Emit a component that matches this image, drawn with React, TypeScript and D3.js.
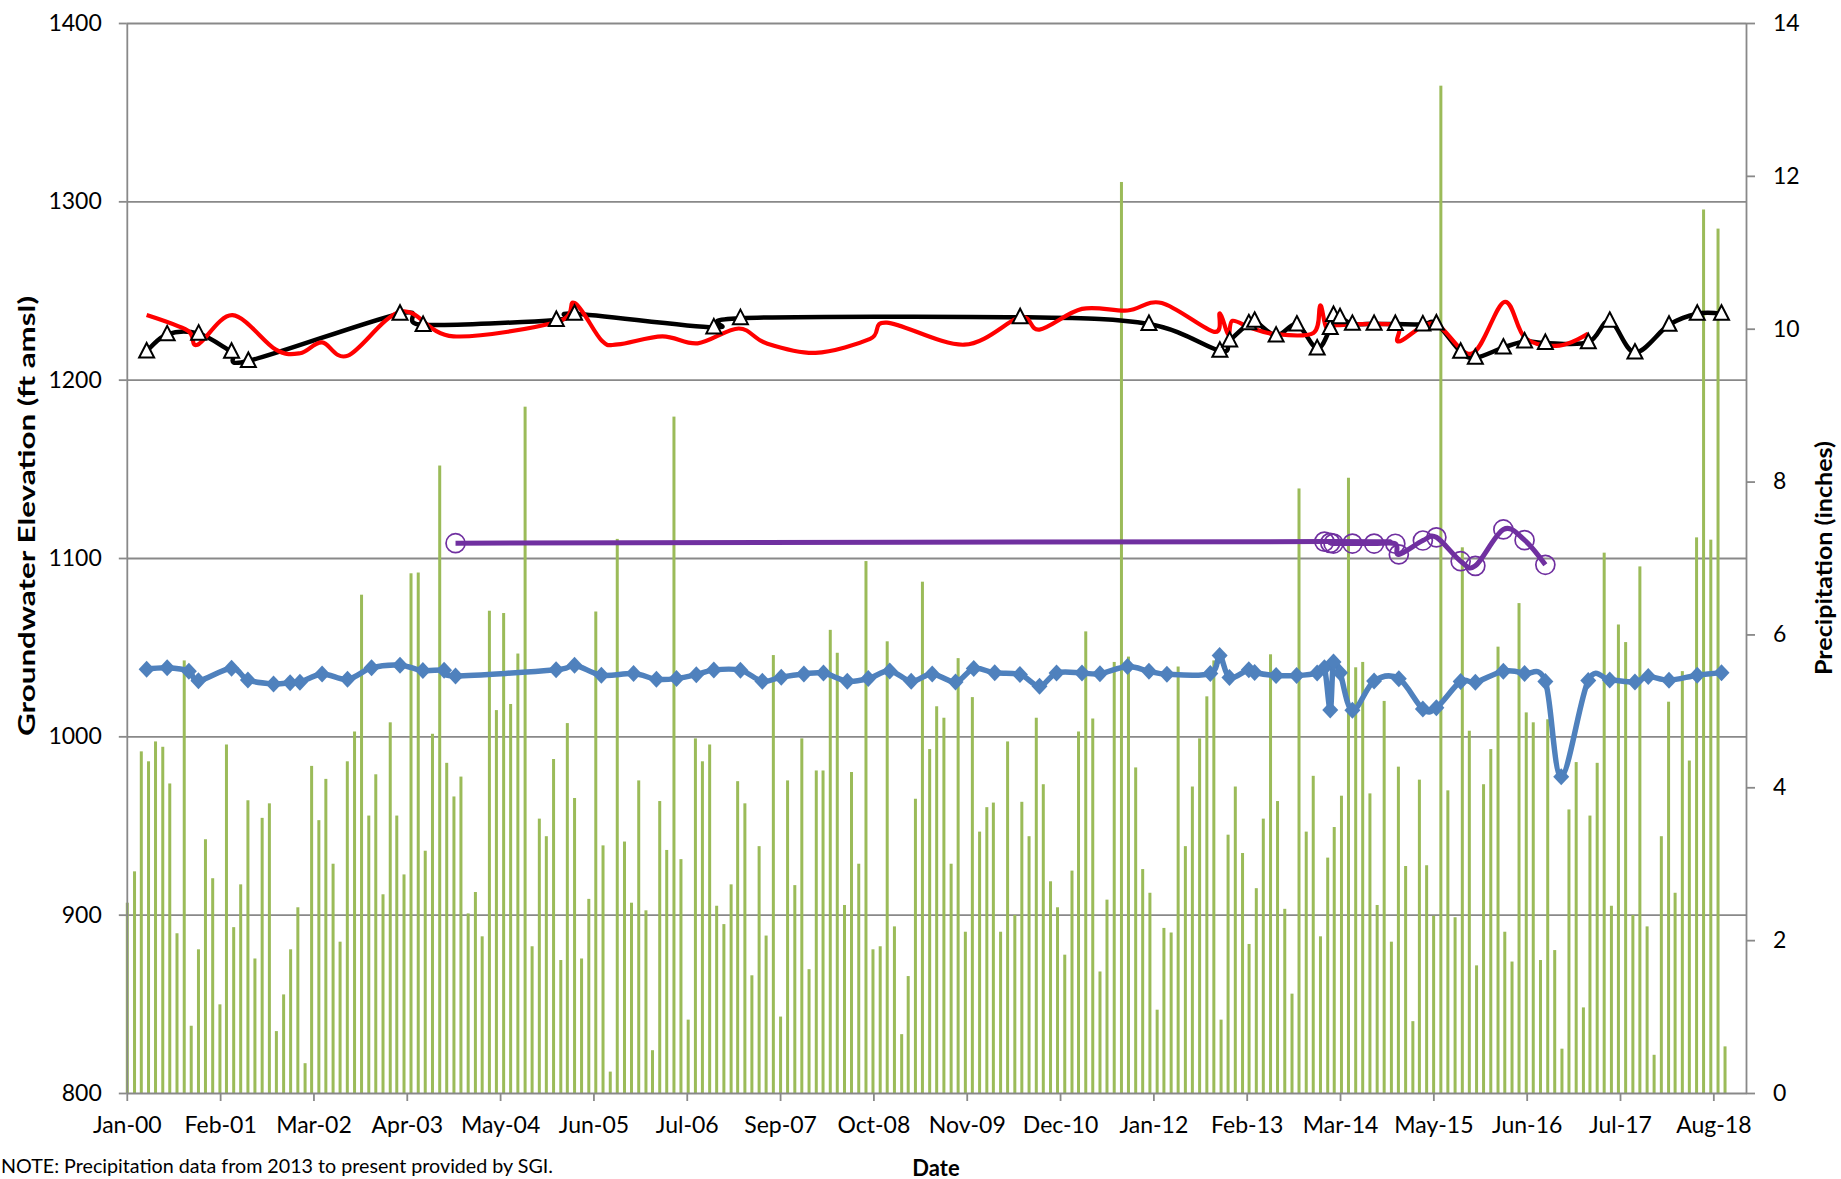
import React, { useRef, useEffect } from 'react';
import * as d3 from 'd3';

const W = 1841;
const H = 1179;

// monthly precipitation (inches), Jan 2000 - Oct 2018
const precipitation = [
  2.49, 2.9, 4.47, 4.34, 4.6, 4.53, 4.05, 2.09, 5.66, 0.88, 1.88, 3.32,
  2.81, 1.16, 4.56, 2.17, 2.73, 3.83, 1.76, 3.6, 3.79, 0.81, 1.29, 1.88,
  2.43, 0.39, 4.28, 3.57, 4.11, 3.0, 1.98, 4.34, 4.73, 6.52, 3.63, 4.17,
  2.6, 4.85, 3.63, 2.86, 6.8, 6.81, 3.17, 4.7, 8.21, 4.32, 3.88, 4.14,
  2.35, 2.63, 2.05, 6.31, 5.01, 6.28, 5.09, 5.75, 8.98, 1.92, 3.59, 3.36,
  4.37, 1.74, 4.84, 3.86, 1.76, 2.54, 6.3, 3.24, 0.28, 7.25, 3.29, 2.49,
  4.09, 2.39, 0.56, 3.82, 3.18, 8.85, 3.06, 0.96, 4.64, 4.34, 4.56, 2.45,
  2.21, 2.73, 4.08, 3.79, 1.54, 3.23, 2.06, 5.73, 1.0, 4.09, 2.72, 4.64,
  1.62, 4.22, 4.22, 6.06, 5.76, 2.46, 4.2, 3.0, 6.96, 1.88, 1.92, 5.91,
  2.18, 0.77, 1.53, 3.85, 6.69, 4.5, 5.06, 4.91, 3.0, 5.69, 2.11, 5.18,
  3.42, 3.74, 3.8, 2.11, 4.6, 2.33, 3.81, 3.36, 4.91, 4.04, 2.77, 2.43,
  1.81, 2.91, 4.73, 6.04, 4.9, 1.59, 2.53, 5.64, 11.92, 5.71, 4.26, 2.93,
  2.62, 1.09, 2.16, 2.1, 5.58, 3.23, 4.01, 4.64, 5.19, 5.66, 0.96, 3.38,
  4.01, 3.14, 1.95, 2.68, 3.59, 5.74, 3.82, 2.41, 1.3, 7.91, 3.42, 4.15,
  2.05, 3.08, 3.48, 3.89, 8.05, 5.57, 5.64, 3.92, 2.46, 5.13, 1.98, 4.27,
  2.97, 0.94, 4.1, 2.98, 2.32, 13.18, 3.96, 2.3, 7.14, 4.74, 1.67, 4.04,
  4.5, 5.84, 2.11, 1.72, 6.41, 4.98, 4.85, 1.74, 4.89, 1.87, 0.58, 3.71,
  4.33, 1.12, 3.63, 4.32, 7.07, 2.45, 6.13, 5.9, 2.33, 6.89, 2.18, 0.5,
  3.36, 5.12, 2.62, 5.52, 4.35, 7.27, 11.56, 7.24, 11.31, 0.61,
];

const blueWell: [string, number][] = [
  ['2000-03-26', 1037.6], ['2000-06-22', 1038.4], ['2000-09-23', 1036.5], ['2000-11-03', 1031.1],
  ['2001-03-25', 1038.2], ['2001-06-03', 1031.6], ['2001-09-21', 1029.4], ['2001-12-01', 1030.1],
  ['2002-01-12', 1030.3], ['2002-04-17', 1035.0], ['2002-08-04', 1032.0], ['2002-11-15', 1038.4],
  ['2003-03-17', 1039.9], ['2003-06-23', 1036.9], ['2003-09-22', 1037.1], ['2003-11-10', 1033.9],
  ['2005-01-14', 1037.4], ['2005-04-03', 1039.9], ['2005-07-27', 1034.3], ['2005-12-12', 1035.2],
  ['2006-03-20', 1032.0], ['2006-06-14', 1032.4], ['2006-09-07', 1034.6], ['2006-11-21', 1037.2],
  ['2007-03-15', 1037.1], ['2007-06-17', 1030.9], ['2007-09-06', 1033.2], ['2007-12-12', 1035.0],
  ['2008-03-05', 1035.5], ['2008-06-15', 1030.9], ['2008-09-13', 1032.4], ['2008-12-14', 1036.7],
  ['2009-03-16', 1030.9], ['2009-06-14', 1035.0], ['2009-09-22', 1030.5], ['2009-12-09', 1038.0],
  ['2010-03-09', 1035.6], ['2010-06-25', 1034.7], ['2010-09-17', 1028.1], ['2010-11-29', 1035.5],
  ['2011-03-18', 1035.5], ['2011-06-03', 1035.1], ['2011-09-29', 1039.1], ['2011-12-30', 1036.5],
  ['2012-03-16', 1034.8], ['2012-09-18', 1035.2], ['2012-10-28', 1045.3], ['2012-12-09', 1033.0],
  ['2013-03-02', 1037.4], ['2013-03-27', 1035.8], ['2013-06-27', 1034.1], ['2013-09-23', 1034.1],
  ['2013-12-20', 1035.5], ['2014-01-20', 1038.5], ['2014-02-14', 1014.8], ['2014-02-28', 1041.7],
  ['2014-03-28', 1035.6], ['2014-05-20', 1014.6], ['2014-08-21', 1031.0], ['2014-12-05', 1032.3],
  ['2015-03-18', 1015.3], ['2015-05-15', 1016.0], ['2015-08-27', 1030.8], ['2015-10-29', 1030.3],
  ['2016-02-26', 1036.5], ['2016-05-27', 1035.3], ['2016-08-24', 1030.8], ['2016-10-31', 977.4],
  ['2017-02-24', 1031.3], ['2017-05-27', 1031.6], ['2017-09-12', 1030.5], ['2017-11-08', 1033.5],
  ['2018-02-05', 1031.5], ['2018-06-06', 1034.3], ['2018-09-18', 1035.7],
];

const blackWell: [string, number][] = [
  ['2000-03-26', 1215.8], ['2000-06-22', 1225.4], ['2000-11-04', 1225.8], ['2001-03-25', 1215.7],
  ['2001-06-05', 1210.5], ['2003-03-17', 1237.0], ['2003-06-24', 1230.7], ['2005-01-15', 1233.5],
  ['2005-04-03', 1237.0], ['2006-11-21', 1229.3], ['2007-03-15', 1234.5], ['2010-06-26', 1235.0],
  ['2011-12-30', 1231.2], ['2012-10-29', 1216.2], ['2012-12-10', 1221.9], ['2013-03-02', 1231.6],
  ['2013-03-27', 1233.0], ['2013-06-27', 1224.7], ['2013-09-24', 1230.9], ['2013-12-20', 1217.5],
  ['2014-02-14', 1229.0], ['2014-02-28', 1236.3], ['2014-03-28', 1235.0], ['2014-05-20', 1231.3],
  ['2014-08-21', 1231.3], ['2014-11-20', 1231.2], ['2015-03-18', 1231.0], ['2015-05-15', 1231.5],
  ['2015-08-27', 1215.7], ['2015-10-29', 1212.3], ['2016-02-26', 1218.0], ['2016-05-27', 1221.4],
  ['2016-08-24', 1220.6], ['2017-02-24', 1221.0], ['2017-05-27', 1233.0], ['2017-09-12', 1215.2],
  ['2018-02-05', 1230.8], ['2018-06-06', 1237.0], ['2018-09-18', 1237.0],
];

const redWell: [string, number][] = [
  ['2000-03-26', 1236.2], ['2000-09-18', 1227.5], ['2000-10-30', 1219.6], ['2001-03-29', 1236.2],
  ['2001-09-29', 1217.0], ['2002-01-13', 1214.8], ['2002-04-17', 1220.9], ['2002-08-06', 1213.5],
  ['2003-03-23', 1238.2], ['2003-11-01', 1224.3], ['2005-01-21', 1232.5], ['2005-04-03', 1243.0],
  ['2005-07-28', 1222.0], ['2005-10-06', 1219.8], ['2006-04-14', 1224.3], ['2006-09-13', 1220.4],
  ['2007-03-08', 1228.7], ['2007-07-04', 1220.4], ['2008-01-31', 1215.0], ['2008-09-21', 1222.9],
  ['2008-12-02', 1232.0], ['2009-10-29', 1219.6], ['2010-06-26', 1234.9], ['2010-09-17', 1228.1],
  ['2011-03-18', 1239.7], ['2011-09-29', 1238.8], ['2012-02-23', 1243.0], ['2012-10-05', 1226.8],
  ['2012-10-29', 1237.2], ['2012-12-04', 1225.2], ['2012-12-22', 1233.0], ['2013-03-10', 1229.1],
  ['2013-06-19', 1225.6], ['2013-12-04', 1226.2], ['2014-01-02', 1241.6], ['2014-01-29', 1229.1],
  ['2014-03-15', 1230.6], ['2014-11-20', 1230.6], ['2014-12-05', 1221.4], ['2015-05-04', 1231.5],
  ['2015-10-14', 1214.6], ['2016-03-01', 1243.6], ['2016-05-30', 1223.3], ['2016-10-23', 1219.1],
  ['2017-02-24', 1225.8],
];

const purpleWell: [string, number][] = [
  ['2003-11-10', 1108.3], ['2014-01-20', 1109.2], ['2014-02-14', 1108.5], ['2014-02-28', 1108.1],
  ['2014-05-20', 1108.1], ['2014-08-21', 1108.1], ['2014-11-20', 1108.0], ['2014-12-05', 1102.0],
  ['2015-03-18', 1109.8], ['2015-05-15', 1111.6], ['2015-08-27', 1098.2], ['2015-10-29', 1095.6],
  ['2016-02-26', 1116.0], ['2016-05-27', 1110.0], ['2016-08-24', 1096.2],
];

const elevationTicks = [800, 900, 1000, 1100, 1200, 1300, 1400];
const precipTicks = [0, 2, 4, 6, 8, 10, 12, 14];
const tickStepDays = 400; // Excel date axis major unit

const FONT = 'Lato, "Open Sans", sans-serif';

const App = () => {
  const svgRef = useRef<SVGSVGElement>(null);

  useEffect(() => {
    const svg = d3.select(svgRef.current);
    svg.selectAll('*').remove();

    const left = 126.8;
    const right = 1746;
    const top = 23;
    const bottom = 1093;

    const start = new Date(2000, 0, 1);
    const x = d3.scaleTime().domain([start, new Date(2019, 0, 1)]).range([left, right]);
    const yL = d3.scaleLinear().domain([800, 1400]).range([bottom, top]);
    const yR = d3.scaleLinear().domain([0, 14]).range([bottom, top]);
    const parse = d3.timeParse('%Y-%m-%d');

    const gridColor = '#898989';

    // gridlines
    svg
      .append('g')
      .attr('transform', `translate(${left},0)`)
      .call(d3.axisLeft(yL).tickValues(elevationTicks.slice(1)).tickSize(-(right - left)).tickFormat(() => ''))
      .call(g => g.select('.domain').remove())
      .selectAll('line')
      .attr('stroke', gridColor)
      .attr('stroke-width', 1.8);

    // precipitation bars
    svg
      .append('g')
      .selectAll('rect')
      .data(precipitation)
      .join('rect')
      .attr('x', (d, i) => x(d3.timeMonth.offset(start, i)) - 1)
      .attr('y', d => yR(d))
      .attr('width', 3)
      .attr('height', d => yR(0) - yR(d))
      .attr('fill', '#9BBB59');

    // axes
    const tickDates = d3.range(0, 6801, tickStepDays).map(d => d3.timeDay.offset(start, d));
    const xAxis = svg
      .append('g')
      .attr('transform', `translate(0,${bottom})`)
      .call(
        d3
          .axisBottom(x)
          .tickValues(tickDates)
          .tickFormat(d3.timeFormat('%b-%y') as any)
          .tickSize(8)
          .tickSizeOuter(0)
          .tickPadding(16)
      );

    const yAxisL = svg
      .append('g')
      .attr('transform', `translate(${left},0)`)
      .call(
        d3
          .axisLeft(yL)
          .tickValues(elevationTicks)
          .tickFormat(d3.format('d') as any)
          .tickSize(8)
          .tickSizeOuter(0)
          .tickPadding(17)
      );

    const yAxisR = svg
      .append('g')
      .attr('transform', `translate(${right},0)`)
      .call(
        d3
          .axisRight(yR)
          .tickValues(precipTicks)
          .tickFormat(d3.format('d') as any)
          .tickSize(9)
          .tickSizeOuter(0)
          .tickPadding(18)
      );

    [xAxis, yAxisL, yAxisR].forEach(g => {
      g.select('.domain').attr('stroke', gridColor).attr('stroke-width', 1.8);
      g.selectAll('.tick line').attr('stroke', gridColor).attr('stroke-width', 1.8);
      g.selectAll('text')
        .attr('font-family', FONT)
        .attr('font-size', 23)
        .attr('fill', '#000');
    });

    const curve = d3.curveCardinal.tension(0);
    const lineL = d3
      .line<[string, number]>()
      .x(d => x(parse(d[0]) as Date))
      .y(d => yL(d[1]))
      .curve(curve);

    // blue well
    svg
      .append('path')
      .datum(blueWell)
      .attr('d', lineL)
      .attr('fill', 'none')
      .attr('stroke', '#4F81BD')
      .attr('stroke-width', 5.5)
      .attr('stroke-linejoin', 'round');
    svg
      .append('g')
      .selectAll('path')
      .data(blueWell)
      .join('path')
      .attr('transform', d => `translate(${x(parse(d[0]) as Date)},${yL(d[1])})`)
      .attr('d', 'M0,-8.5L8,0L0,8.5L-8,0Z')
      .attr('fill', '#4F81BD');

    // purple well
    svg
      .append('path')
      .datum(purpleWell)
      .attr('d', lineL)
      .attr('fill', 'none')
      .attr('stroke', '#7030A0')
      .attr('stroke-width', 5);
    svg
      .append('g')
      .selectAll('circle')
      .data(purpleWell)
      .join('circle')
      .attr('cx', d => x(parse(d[0]) as Date))
      .attr('cy', d => yL(d[1]))
      .attr('r', 9.5)
      .attr('fill', 'none')
      .attr('stroke', '#7030A0')
      .attr('stroke-width', 1.7);

    // black well
    svg
      .append('path')
      .datum(blackWell)
      .attr('d', lineL)
      .attr('fill', 'none')
      .attr('stroke', '#000')
      .attr('stroke-width', 4.5);

    // red well
    svg
      .append('path')
      .datum(redWell)
      .attr('d', lineL)
      .attr('fill', 'none')
      .attr('stroke', '#FF0000')
      .attr('stroke-width', 4.2);

    svg
      .append('g')
      .selectAll('path')
      .data(blackWell)
      .join('path')
      .attr('transform', d => `translate(${x(parse(d[0]) as Date)},${yL(d[1])})`)
      .attr('d', 'M0,-8.5L7.5,6L-7.5,6Z')
      .attr('fill', '#fff')
      .attr('stroke', '#000')
      .attr('stroke-width', 2);

    // titles
    svg
      .append('text')
      .attr('transform', `translate(26,516) rotate(-90)`)
      .attr('text-anchor', 'middle')
      .attr('dominant-baseline', 'central')
      .attr('font-family', FONT)
      .attr('font-weight', 'bold')
      .attr('font-size', 22)
      .attr('textLength', 440)
      .attr('lengthAdjust', 'spacingAndGlyphs')
      .text('Groundwater Elevation (ft amsl)');

    svg
      .append('text')
      .attr('transform', `translate(1823,558) rotate(-90)`)
      .attr('text-anchor', 'middle')
      .attr('dominant-baseline', 'central')
      .attr('font-family', FONT)
      .attr('font-weight', 'bold')
      .attr('font-size', 22)
      .attr('textLength', 234)
      .attr('lengthAdjust', 'spacingAndGlyphs')
      .text('Precipitation (inches)');

    svg
      .append('text')
      .attr('x', 936)
      .attr('y', 1167)
      .attr('text-anchor', 'middle')
      .attr('dominant-baseline', 'central')
      .attr('font-family', FONT)
      .attr('font-weight', 'bold')
      .attr('font-size', 22)
      .text('Date');

    svg
      .append('text')
      .attr('x', 1)
      .attr('y', 1165)
      .attr('dominant-baseline', 'central')
      .attr('font-family', FONT)
      .attr('font-size', 19)
      .attr('textLength', 552)
      .attr('lengthAdjust', 'spacingAndGlyphs')
      .text('NOTE: Precipitation data from 2013 to present provided by SGI.');
  }, []);

  return (
    <div style={{ position: 'absolute', left: 0, top: 0, width: W, height: H, background: '#fff' }}>
      <svg ref={svgRef} width={W} height={H} style={{ display: 'block' }} />
    </div>
  );
};

export default App;
